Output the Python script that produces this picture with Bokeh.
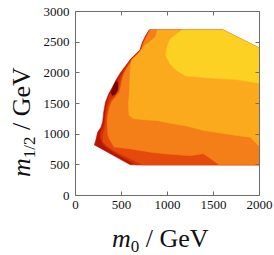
from bokeh.plotting import figure
from bokeh.models import LinearAxis, Range1d, Div, CustomLabelingPolicy
from bokeh.layouts import row, column
from bokeh.embed import file_html
from bokeh.resources import INLINE

# axis ticks
x_ticks = [0, 500, 1000, 1500, 2000]
y_ticks = [0, 500, 1000, 1500, 2000, 2500, 3000]

# contour bands (m0, m1/2 in GeV), painted from outermost to innermost
outer_m0 = [800, 1600, 2000, 2000, 595, 205, 220, 240, 275, 295, 305, 325, 360, 400, 435, 490, 545, 600, 635, 700, 710, 725, 760]
outer_m12 = [2700, 2700, 2400, 500, 500, 825, 900, 1030, 1110, 1200, 1350, 1520, 1655, 1765, 1870, 2005, 2115, 2225, 2280, 2370, 2420, 2490, 2600]

red_m0 = [805, 1600, 2000, 2000, 660, 420, 300, 265, 272, 298, 314, 322, 342, 376, 420, 458, 505, 558, 606, 642, 703, 714, 730, 766]
red_m12 = [2700, 2700, 2400, 500, 500, 700, 830, 950, 1030, 1110, 1200, 1350, 1520, 1655, 1765, 1870, 2005, 2120, 2228, 2280, 2370, 2420, 2490, 2600]

dark_m0 = [385, 415, 445, 462, 460, 435, 400]
dark_m12 = [1680, 1790, 1865, 1840, 1730, 1650, 1630]

redorange_m0 = [730, 2000, 2000, 1600, 808, 770, 732, 716, 690, 645, 605, 560, 520, 495, 478, 465, 425, 385, 352, 334, 326, 312, 296, 300, 360, 480]
redorange_m12 = [500, 500, 2400, 2700, 2700, 2600, 2480, 2400, 2330, 2270, 2200, 2100, 2000, 1900, 1800, 1700, 1620, 1560, 1450, 1300, 1150, 1060, 960, 870, 780, 680]

orange_m0 = [1560, 2000, 2000, 1600, 812, 776, 738, 722, 684, 644, 594, 548, 518, 502, 490, 475, 432, 392, 366, 350, 345, 350, 366, 420, 600, 815, 1000, 1250, 1390, 1450]
orange_m12 = [500, 500, 2400, 2700, 2700, 2600, 2480, 2400, 2310, 2250, 2160, 2050, 1950, 1850, 1760, 1680, 1600, 1530, 1420, 1300, 1200, 1000, 920, 790, 760, 705, 675, 650, 680, 620]

oryellow_m0 = [2000, 2000, 1600, 890, 870, 800, 745, 712, 652, 612, 597, 591, 586, 576, 580, 630, 890, 1030, 1194, 1394, 1756, 1900]
oryellow_m12 = [800, 2400, 2700, 2700, 2590, 2500, 2440, 2360, 2270, 2215, 2100, 1900, 1700, 1500, 1310, 1250, 1220, 1177, 1136, 1058, 977, 950]

yellow_m0 = [1158, 1600, 2000, 2000, 1750, 1500, 1200, 1100, 1030, 980, 1000, 1030]
yellow_m12 = [2700, 2700, 2400, 1830, 1890, 1910, 1950, 2040, 2140, 2280, 2450, 2550]

band_colors = ["#B61702", "#D2300A", "#760404", "#E5490C", "#F47E17", "#FBAA1E", "#FDD024"]

p = figure(frame_width=184, frame_height=184,
           min_border_left=35, min_border_right=15, min_border_top=9, min_border_bottom=25,
           x_range=Range1d(0, 2000), y_range=Range1d(0, 3000),
           output_backend="svg", toolbar_location=None)
p.outline_line_color = None
p.xgrid.visible = False
p.ygrid.visible = False
p.background_fill_color = "white"
p.border_fill_color = "white"

p.patches([outer_m0, red_m0, dark_m0, redorange_m0, orange_m0, oryellow_m0, yellow_m0],
          [outer_m12, red_m12, dark_m12, redorange_m12, orange_m12, oryellow_m12, yellow_m12],
          fill_color=band_colors, line_color=band_colors, line_width=0.5)

frame_col = "#6E6E6E"
font = "Liberation Serif"

no_labels = CustomLabelingPolicy(code="""
try { return new indices.constructor(indices.size, 0) } catch (e) { return indices }
""")
p.add_layout(LinearAxis(major_label_policy=no_labels), "above")
p.add_layout(LinearAxis(major_label_policy=no_labels), "right")
for ax in p.axis:
    ax.axis_line_color = frame_col
    ax.major_tick_line_color = frame_col
    ax.minor_tick_line_color = frame_col
    ax.major_tick_in = 4
    ax.major_tick_out = 0
    ax.minor_tick_in = 2
    ax.minor_tick_out = 0
    ax.major_label_text_font = font
    ax.major_label_text_font_size = "13px"
    ax.major_label_text_color = "#111111"
for ax in p.xaxis:
    ax.ticker = x_ticks
    ax.ticker.num_minor_ticks = 5
for ax in p.yaxis:
    ax.ticker = y_ticks
    ax.ticker.num_minor_ticks = 5
p.xaxis[0].major_label_standoff = 6
p.yaxis[0].major_label_standoff = 6
for ax in (p.above[0], p.right[0]):
    ax.major_label_standoff = 0

# axis labels: m_{1/2} / GeV (rotated) and m_0 / GeV
txt = "font-family:'Liberation Serif'; font-size:26px; line-height:30px; color:#111111; white-space:nowrap;"
sub = "font-size:17px; position:relative; top:5px;"
ylab = Div(text=f'<div style="{txt} margin:177px 0 0 7px; width:max-content; transform:rotate(-90deg); transform-origin:0 0;">'
                f'<i>m</i><span style="{sub}">1/2</span> / GeV</div>',
           width=40, height=255, margin=0)
xlab = Div(text=f'<div style="{txt} margin:4px 0 0 72px;"><i>m</i><span style="{sub}">0</span> / GeV</div>',
           width=234, height=37, margin=0)

layout = row(ylab, column(p, xlab, spacing=0), spacing=0)

open("out.html", "w").write(file_html(layout, INLINE))
